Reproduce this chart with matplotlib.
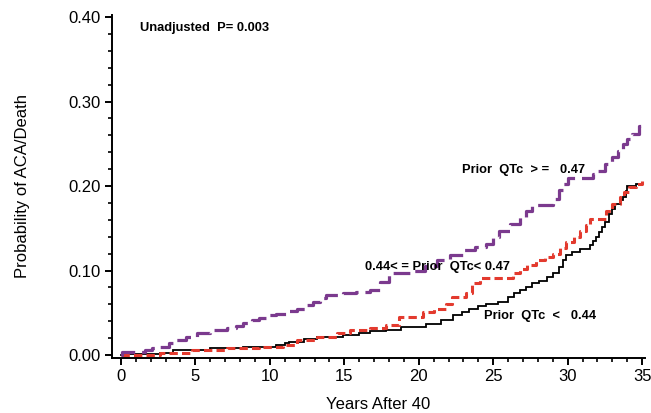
import matplotlib
matplotlib.use("Agg")
import matplotlib.pyplot as plt
from matplotlib.ticker import MultipleLocator, FormatStrFormatter

plt.rcParams['font.family'] = ['Liberation Sans', 'DejaVu Sans']
plt.rcParams['lines.scale_dashes'] = False

# ---- data ----
t_high = [0, 0.1, 1.6, 2.1, 2.6, 3.2, 3.7, 4.4, 5.1, 6.0, 7.1, 7.7, 8.2, 8.8, 9.3, 9.9,
          10.4, 11.1, 11.8, 12.4, 12.9, 13.4, 13.8, 14.9, 15.8, 16.7, 17.4, 18.0, 19.6,
          20.4, 21.2, 22.1, 23.0, 23.8, 24.5, 25.0, 25.4, 26.1, 26.8, 27.2, 27.6, 29.0,
          29.4, 29.7, 30.0, 31.7, 32.0, 32.5, 33.0, 33.4, 33.7, 34.0, 34.3, 34.8, 35.0]
p_high = [0, 0.004, 0.006, 0.008, 0.010, 0.014, 0.018, 0.022, 0.026, 0.030, 0.032, 0.035,
          0.038, 0.041, 0.044, 0.047, 0.049, 0.052, 0.055, 0.059, 0.063, 0.067, 0.071,
          0.073, 0.075, 0.077, 0.087, 0.097, 0.100, 0.106, 0.112, 0.118, 0.124, 0.128,
          0.132, 0.140, 0.147, 0.155, 0.163, 0.170, 0.177, 0.185, 0.195, 0.203, 0.210,
          0.214, 0.218, 0.226, 0.234, 0.242, 0.250, 0.256, 0.262, 0.271, 0.271]

t_mid = [0, 2.6, 4.8, 7.1, 9.3, 10.9, 11.8, 13.2, 14.5, 15.4, 16.7, 17.8, 18.7, 20.3,
         21.0, 21.8, 22.2, 23.2, 23.6, 24.1, 26.3, 26.8, 27.3, 27.9, 28.5, 29.0, 29.5,
         29.9, 30.4, 30.8, 31.2, 31.5, 32.6, 33.0, 33.5, 33.8, 34.1, 34.6, 35.0]
p_mid = [0, 0.002, 0.006, 0.008, 0.010, 0.012, 0.018, 0.022, 0.026, 0.030, 0.032, 0.036,
         0.045, 0.051, 0.055, 0.061, 0.069, 0.073, 0.085, 0.091, 0.097, 0.102, 0.107,
         0.112, 0.116, 0.120, 0.127, 0.134, 0.140, 0.147, 0.154, 0.161, 0.170, 0.179,
         0.187, 0.193, 0.199, 0.202, 0.206]

t_low = [0, 0.3, 2.6, 3.5, 6.0, 8.2, 10.4, 11.0, 11.3, 12.3, 13.2, 14.9, 16.0, 16.7,
         17.8, 18.8, 20.5, 21.5, 22.3, 22.9, 23.4, 24.0, 24.5, 25.3, 26.0, 26.4, 26.8,
         27.2, 27.6, 28.1, 28.6, 29.0, 29.4, 29.7, 29.9, 30.3, 30.8, 31.5, 31.7, 31.9,
         32.1, 32.3, 32.5, 32.8, 33.0, 33.2, 33.5, 33.7, 33.9, 34.0, 34.6, 35.0]
p_low = [0, 0.001, 0.002, 0.006, 0.008, 0.010, 0.012, 0.014, 0.016, 0.019, 0.022, 0.024,
         0.026, 0.028, 0.030, 0.033, 0.037, 0.042, 0.047, 0.051, 0.055, 0.058, 0.061,
         0.063, 0.069, 0.073, 0.077, 0.081, 0.085, 0.088, 0.092, 0.097, 0.104, 0.112,
         0.118, 0.122, 0.126, 0.130, 0.135, 0.140, 0.146, 0.151, 0.158, 0.167, 0.173,
         0.179, 0.184, 0.187, 0.194, 0.200, 0.202, 0.204]

x_ticks = [0, 5, 10, 15, 20, 25, 30, 35]
y_ticks = [0.0, 0.1, 0.2, 0.3, 0.4]

label_high = "Prior  QTc  > =   0.47"
label_mid = "0.44< = Prior  QTc< 0.47"
label_low = "Prior  QTc  <   0.44"
p_text = "Unadjusted  P= 0.003"

# ---- figure ----
fig = plt.figure(figsize=(6.51, 4.13), dpi=100)
ax = fig.add_axes([0.172, 0.133, 0.819, 0.831])

ax.step(t_low, p_low, where='post', color='black', lw=1.3, solid_joinstyle='miter')
ax.step(t_mid, p_mid, where='post', color='#E33A2E', lw=2.2, dashes=(6, 3))
ax.step(t_high, p_high, where='post', color='#7B3A8E', lw=2.3, dashes=(12, 5))

ax.set_xlim(-0.6, 35.2)
ax.set_ylim(-0.0035, 0.4025)
ax.set_xticks(x_ticks)
ax.set_yticks(y_ticks)
ax.xaxis.set_minor_locator(MultipleLocator(1))
ax.yaxis.set_minor_locator(MultipleLocator(0.02))
ax.yaxis.set_major_formatter(FormatStrFormatter('%.2f'))

for s in ['top', 'right']:
    ax.spines[s].set_visible(False)
for s in ['left', 'bottom']:
    ax.spines[s].set_linewidth(1.4)

ax.tick_params(which='major', direction='out', length=5, width=1.4, labelsize=12, pad=3)
ax.tick_params(which='minor', direction='out', length=3, width=1.2)

ax.set_xlabel('Years After 40', fontsize=12, labelpad=9)
ax.set_ylabel('Probability of ACA/Death', fontsize=12, labelpad=28)

tkw = dict(fontsize=9.3, ha='left', va='center', color='black', fontweight='bold')
ax.text(1.27, 0.387, p_text, **tkw)
ax.text(22.9, 0.2195, label_high, **tkw)
ax.text(16.4, 0.104, label_mid, **tkw)
ax.text(24.35, 0.0464, label_low, **tkw)

fig.savefig('out.png', dpi=100)
